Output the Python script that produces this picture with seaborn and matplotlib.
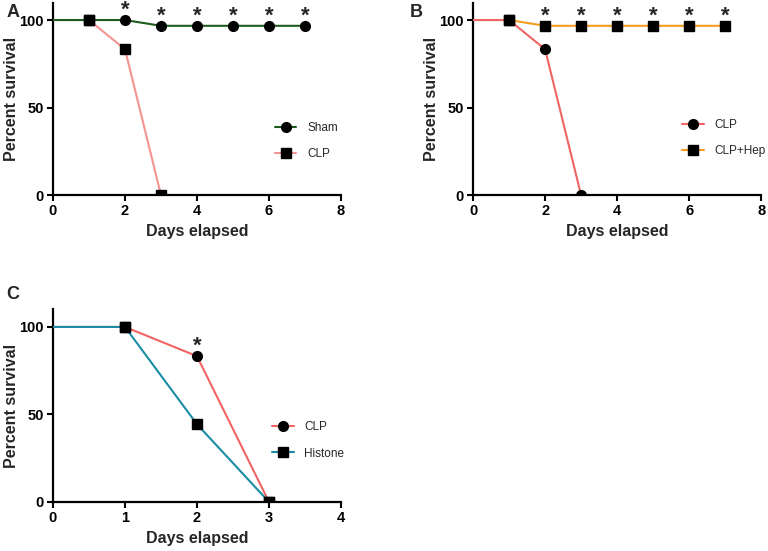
import matplotlib
matplotlib.use('Agg')
import matplotlib.pyplot as plt
import seaborn as sns
import pandas as pd
from matplotlib.lines import Line2D

# panel A
days_a = [0, 1, 2, 3, 4, 5, 6, 7]
sham_a = [100, 100, 100, 96.7, 96.7, 96.7, 96.7, 96.7]
days_clp = [0, 1, 2, 3]
clp_a = [100, 100, 83.3, 0]
stars_a = [2, 3, 4, 5, 6, 7]

# panel B
days_b = [0, 1, 2, 3, 4, 5, 6, 7]
clp_hep_b = [100, 100, 96.7, 96.7, 96.7, 96.7, 96.7, 96.7]
clp_b = [100, 100, 83.3, 0]
stars_b = [2, 3, 4, 5, 6, 7]

# panel C
days_c = [0, 1, 2, 3]
clp_c = [100, 100, 83.3, 0]
histone_c = [100, 100, 44.4, 0]
stars_c = [2]

sns.set_style('ticks')
plt.rcParams['font.family'] = ['Liberation Sans', 'DejaVu Sans']

GREEN = '#1d5c1d'
PINK = '#f59393'
RED = '#f06464'
ORANGE = '#f39c1e'
TEAL = '#1a8ca4'


def draw_series(ax, x, y, color, marker, ms, z):
    df = pd.DataFrame({'day': x, 'pct': y})
    sns.lineplot(data=df, x='day', y='pct', ax=ax, color=color, lw=1.5,
                 zorder=z, legend=False)
    pts = df[df['day'] >= 1]
    ax.plot(pts['day'], pts['pct'], ls='none', marker=marker, ms=ms,
            mfc='black', mec='black', zorder=z + 5)


def add_stars(ax, x_list, x, y):
    lookup = dict(zip(x, y))
    for d in x_list:
        ax.annotate('*', (d, lookup[d]), xytext=(0, 7), textcoords='offset points',
                    ha='center', va='center', fontsize=16, fontweight='bold')


def style_axes(ax, xmax, xticks):
    ax.set_xlim(0, xmax)
    ax.set_ylim(0, 110)
    ax.set_xticks(xticks)
    ax.set_yticks([0, 50, 100])
    sns.despine(ax=ax)
    for s in ['left', 'bottom']:
        ax.spines[s].set_linewidth(1.6)
        ax.spines[s].set_color('black')
    ax.tick_params(width=1.5, length=4.5, pad=2, labelsize=10.5, colors='black')
    for lab in ax.get_xticklabels() + ax.get_yticklabels():
        lab.set_fontweight('bold')
    ax.set_xlabel('Days elapsed', fontsize=11.5, fontweight='bold', labelpad=4)
    ax.set_ylabel('Percent survival', fontsize=11.5, fontweight='bold')
    ax.yaxis.set_label_coords(-0.118, 0.5)
    ax.grid(False)


def add_legend(ax, items, anchor):
    handles = [Line2D([], [], color=c, lw=1.5, marker=m, ms=ms, mfc='black', mec='black')
               for c, m, ms in items[1]]
    ax.legend(handles, items[0], loc='center left', bbox_to_anchor=anchor,
              frameon=False, fontsize=8.5, handlelength=1.8, labelspacing=1.2,
              handletextpad=0.9, borderaxespad=0)


fig = plt.figure(figsize=(7.68, 5.51), dpi=100)
ax_a = fig.add_axes([0.069, 0.646, 0.375, 0.3494])
ax_b = fig.add_axes([0.616, 0.646, 0.375, 0.3494])
ax_c = fig.add_axes([0.069, 0.089, 0.375, 0.3494])

# A
draw_series(ax_a, days_clp, clp_a, PINK, 's', 7, 2)
draw_series(ax_a, days_a, sham_a, GREEN, 'o', 7, 3)
ax_a.plot([1], [100], ls='none', marker='s', ms=7, color='black', zorder=10)
add_stars(ax_a, stars_a, days_a, sham_a)
style_axes(ax_a, 8, [0, 2, 4, 6, 8])
add_legend(ax_a, (['Sham', 'CLP'], [(GREEN, 'o', 7), (PINK, 's', 7)]), (0.755, 0.28))

# B
draw_series(ax_b, days_b, clp_hep_b, ORANGE, 's', 7, 2)
draw_series(ax_b, days_clp, clp_b, RED, 'o', 7, 3)
ax_b.plot([1], [100], ls='none', marker='s', ms=7, color='black', zorder=10)
add_stars(ax_b, stars_b, days_b, clp_hep_b)
style_axes(ax_b, 8, [0, 2, 4, 6, 8])
add_legend(ax_b, (['CLP', 'CLP+Hep'], [(RED, 'o', 7), (ORANGE, 's', 7)]), (0.71, 0.296))

# C
draw_series(ax_c, days_c, histone_c, TEAL, 's', 7, 3)
draw_series(ax_c, days_c, clp_c, RED, 'o', 7, 2)
ax_c.plot([1, 3], [100, 0], ls='none', marker='s', ms=7, color='black', zorder=10)
add_stars(ax_c, stars_c, days_c, clp_c)
style_axes(ax_c, 4, [0, 1, 2, 3, 4])
add_legend(ax_c, (['CLP', 'Histone'], [(RED, 'o', 7), (TEAL, 's', 7)]), (0.745, 0.319))

fig.text(0.008, 0.978, 'A', fontsize=13, fontweight='bold', va='center')
fig.text(0.534, 0.978, 'B', fontsize=13, fontweight='bold', va='center')
fig.text(0.008, 0.465, 'C', fontsize=13, fontweight='bold', va='center')

fig.savefig('out.png', dpi=100)
